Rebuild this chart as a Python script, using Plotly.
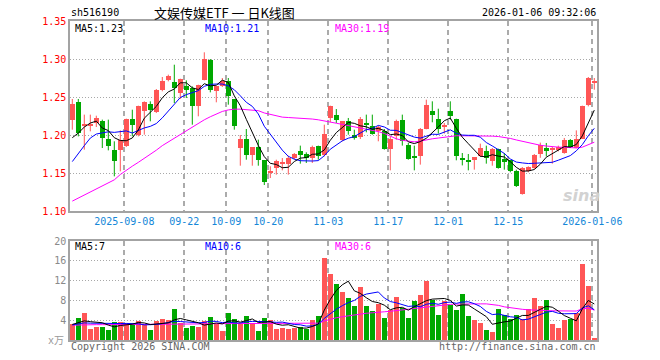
import numpy as np
import plotly.graph_objects as go

# ---------------- data ----------------
open_ = [1.2202, 1.2430, 1.2123, 1.2123, 1.2158, 1.2180, 1.1952, 1.1807, 1.1798, 1.1851,
         1.2215, 1.2004, 1.2311, 1.2412, 1.2298, 1.2596, 1.2719, 1.2693, 1.2553, 1.2640,
         1.2618, 1.2377, 1.2728, 1.2991, 1.2575, 1.2640, 1.2706, 1.2474, 1.1829, 1.1952,
         1.1741, 1.1842, 1.1667, 1.1513, 1.1566, 1.1623, 1.1623, 1.1697, 1.1794, 1.1754,
         1.1697, 1.1851, 1.1741, 1.2224, 1.2268, 1.1939, 1.2180, 1.2004, 1.1974, 1.2145,
         1.2123, 1.2048, 1.2048, 1.1816, 1.1991, 1.2193, 1.1873, 1.1711, 1.1728, 1.2079,
         1.2311, 1.2215, 1.2110, 1.2320, 1.2215, 1.1700, 1.1675, 1.1667, 1.1719, 1.1794,
         1.1654, 1.1820, 1.1689, 1.1667, 1.1531, 1.1228, 1.1522, 1.1566, 1.1750, 1.1829,
         1.1807, 1.1798, 1.1763, 1.1930, 1.1829, 1.1952, 1.2399, 1.2697]
high = [1.2474, 1.2474, 1.2268, 1.2268, 1.2254, 1.2202, 1.2202, 1.1917, 1.2061, 1.2215,
        1.2333, 1.2386, 1.2443, 1.2443, 1.2605, 1.2763, 1.2794, 1.2925, 1.2741, 1.2719,
        1.2640, 1.2662, 1.3088, 1.3000, 1.2640, 1.2750, 1.2750, 1.2474, 1.2000, 1.2079,
        1.1838, 1.1939, 1.1667, 1.1588, 1.1675, 1.1697, 1.1728, 1.1763, 1.1860, 1.1772,
        1.1860, 1.1860, 1.2136, 1.2386, 1.2342, 1.2180, 1.2224, 1.2070, 1.2237, 1.2268,
        1.2268, 1.2123, 1.2079, 1.1982, 1.2202, 1.2268, 1.1895, 1.1860, 1.2092, 1.2465,
        1.2443, 1.2346, 1.2158, 1.2443, 1.2215, 1.1763, 1.1750, 1.1706, 1.1886, 1.1860,
        1.1829, 1.1820, 1.1763, 1.1667, 1.1544, 1.1579, 1.1588, 1.1750, 1.1900, 1.1895,
        1.1842, 1.1860, 1.1961, 1.1947, 1.2061, 1.2386, 1.2763, 1.2750]
low = [1.2070, 1.1982, 1.1807, 1.2048, 1.2105, 1.1829, 1.1798, 1.1456, 1.1522, 1.1842,
       1.1982, 1.1982, 1.2004, 1.2180, 1.2289, 1.2575, 1.2706, 1.2421, 1.2474, 1.2487,
       1.2136, 1.2246, 1.2719, 1.2561, 1.2430, 1.2632, 1.2399, 1.2070, 1.1596, 1.1675,
       1.1596, 1.1596, 1.1342, 1.1434, 1.1478, 1.1535, 1.1478, 1.1675, 1.1623, 1.1632,
       1.1632, 1.1675, 1.1719, 1.2167, 1.2158, 1.1917, 1.2004, 1.1939, 1.1947, 1.2035,
       1.2004, 1.1917, 1.1807, 1.1535, 1.1939, 1.1860, 1.1675, 1.1535, 1.1610, 1.2075,
       1.2167, 1.2018, 1.2018, 1.2202, 1.1667, 1.1600, 1.1535, 1.1544, 1.1711, 1.1623,
       1.1596, 1.1557, 1.1544, 1.1509, 1.1316, 1.1215, 1.1509, 1.1553, 1.1700, 1.1719,
       1.1623, 1.1785, 1.1754, 1.1829, 1.1825, 1.1947, 1.2377, 1.2596]
close = [1.2412, 1.2026, 1.2123, 1.2125, 1.2228, 1.1956, 1.1860, 1.1654, 1.1939, 1.2215,
         1.2136, 1.2386, 1.2430, 1.2333, 1.2596, 1.2706, 1.2772, 1.2618, 1.2741, 1.2596,
         1.2377, 1.2662, 1.3000, 1.2596, 1.2640, 1.2706, 1.2518, 1.2114, 1.1952, 1.1741,
         1.1838, 1.1667, 1.1377, 1.1515, 1.1662, 1.1625, 1.1697, 1.1754, 1.1741, 1.1697,
         1.1842, 1.1719, 1.2018, 1.2377, 1.2202, 1.2180, 1.2048, 1.1961, 1.2215, 1.2136,
         1.2018, 1.2105, 1.1816, 1.1947, 1.2180, 1.1917, 1.1689, 1.1702, 1.2079, 1.2399,
         1.2268, 1.2079, 1.2114, 1.2254, 1.1728, 1.1680, 1.1655, 1.1706, 1.1829, 1.1697,
         1.1816, 1.1566, 1.1645, 1.1522, 1.1325, 1.1566, 1.1575, 1.1741, 1.1873, 1.1785,
         1.1809, 1.1842, 1.1930, 1.1842, 1.1952, 1.2377, 1.2750, 1.2715]
volume = [3.23, 4.44, 5.45, 2.22, 2.69, 2.63, 2.09, 3.64, 3.64, 3.43,
          3.16, 3.84, 3.16, 2.02, 3.84, 4.24, 4.04, 6.26, 3.37, 2.42,
          2.76, 2.63, 3.84, 4.65, 3.30, 1.82, 5.45, 4.24, 3.23, 4.85,
          3.50, 1.82, 4.44, 4.04, 2.22, 2.42, 2.30, 2.50, 2.60, 2.20,
          4.00, 4.85, 16.6, 13.3, 11.3, 9.70, 8.50, 6.90, 10.7, 6.90,
          5.90, 7.30, 4.40, 6.10, 8.75, 6.50, 4.40, 7.90, 9.00, 11.9,
          8.10, 5.05, 7.90, 7.10, 6.10, 9.30, 4.90, 4.00, 3.40, 2.00,
          1.60, 6.30, 5.05, 4.20, 5.05, 4.20, 6.30, 8.50, 6.90, 8.10,
          3.30, 2.40, 4.00, 4.20, 5.45, 15.4, 10.9, 0.40]
# closes / volumes of the sessions just before the window (needed by MA5 / MA10)
prior_close = [1.093, 1.112, 1.113, 1.170, 1.180, 1.172, 1.173, 1.186, 1.210]
prior_volume = [2.6, 3.1, 2.8, 3.0, 3.2, 2.9, 3.4, 3.0, 3.2]
# 30-day averages
ma30_price = [1.113, 1.117, 1.121, 1.125, 1.129, 1.132, 1.136, 1.141, 1.148, 1.154,
              1.159, 1.164, 1.169, 1.175, 1.180, 1.186, 1.191, 1.196, 1.201, 1.206,
              1.211, 1.216, 1.220, 1.224, 1.228, 1.231, 1.233, 1.234, 1.234, 1.2335,
              1.233, 1.232, 1.229, 1.227, 1.225, 1.2235, 1.223, 1.2225, 1.2225, 1.222,
              1.221, 1.220, 1.218, 1.217, 1.2155, 1.214, 1.2125, 1.211, 1.209, 1.207,
              1.2055, 1.2045, 1.202, 1.198, 1.195, 1.193, 1.192, 1.191, 1.192, 1.194,
              1.195, 1.196, 1.197, 1.198, 1.199, 1.199, 1.199, 1.199, 1.199, 1.199,
              1.1985, 1.198, 1.197, 1.1955, 1.1935, 1.1915, 1.190, 1.188, 1.1865, 1.1855,
              1.1845, 1.184, 1.1838, 1.1835, 1.183, 1.184, 1.187, 1.1905]
ma30_volume = [3.0, 3.05, 3.1, 3.1, 3.1, 3.1, 3.1, 3.1, 3.15, 3.15,
               3.15, 3.2, 3.2, 3.2, 3.2, 3.2, 3.2, 3.25, 3.25, 3.25,
               3.25, 3.25, 3.25, 3.3, 3.3, 3.3, 3.3, 3.3, 3.3, 3.35,
               3.35, 3.35, 3.35, 3.35, 3.35, 3.35, 3.35, 3.35, 3.4, 3.4,
               3.4, 3.4, 3.85, 4.2, 4.5, 4.7, 4.9, 5.0, 5.25, 5.4,
               5.5, 5.65, 5.7, 5.8, 5.95, 6.05, 6.1, 6.25, 6.4, 6.6,
               6.8, 6.9, 7.0, 7.2, 7.25, 7.3, 7.3, 7.3, 7.3, 7.3,
               7.2, 7.0, 6.7, 6.5, 6.3, 6.2, 6.1, 6.0, 6.0, 5.95,
               5.9, 5.9, 5.9, 5.85, 5.85, 6.3, 6.4, 6.05]
tick_index = [9, 19, 26, 33, 43, 53, 63, 73, 87]
tick_labels = ["2025-09-08", "09-22", "10-09", "10-20", "11-03", "11-17",
               "12-01", "12-15", "2026-01-06"]
price_ticks = [1.10, 1.15, 1.20, 1.25, 1.30, 1.35]
volume_ticks = [4, 8, 12, 16, 20]

# ---------------- derived ----------------
def sma(values, prior, n):
    arr = np.array(list(prior) + list(values), dtype=float)
    out = np.convolve(arr, np.ones(n) / n, mode="valid")
    return out[-len(values):]

o, h, l, c = (np.array(v) for v in (open_, high, low, close))
vol = np.array(volume)
idx = np.arange(len(c))
up = c >= o
ma5 = sma(close, prior_close, 5)
ma10 = sma(close, prior_close, 10)
vma5 = sma(volume, prior_volume, 5)
vma10 = sma(volume, prior_volume, 10)

RED = "#FF5656"
GREEN = "#00A800"
MONO = "DejaVu Sans Mono"
CJK = "Noto Sans CJK SC"

fig = go.Figure()

def wick_xy(mask):
    xs, ys = [], []
    for i in idx[mask]:
        xs += [i, i, None]
        ys += [l[i], h[i], None]
    return xs, ys

for mask, col in ((up, RED), (~up, GREEN)):
    wx, wy = wick_xy(mask)
    fig.add_trace(go.Scatter(x=wx, y=wy, mode="lines", line=dict(color=col, width=1),
                             xaxis="x", yaxis="y", hoverinfo="skip"))
    base = np.minimum(o, c)[mask]
    height = np.maximum(np.abs(c - o)[mask], 0.0012)
    fig.add_trace(go.Bar(x=idx[mask], y=height, base=base, width=0.82,
                         marker=dict(color=col, line=dict(width=0)),
                         xaxis="x", yaxis="y"))
    fig.add_trace(go.Bar(x=idx[mask], y=vol[mask], width=0.82,
                         marker=dict(color=col, line=dict(width=0)),
                         xaxis="x2", yaxis="y2"))

for series, col in ((ma30_price, "#FF00FF"), (ma10, "#0000FF"), (ma5, "#000000")):
    fig.add_trace(go.Scatter(x=idx, y=series, mode="lines", line=dict(color=col, width=1),
                             xaxis="x", yaxis="y"))
for series, col in ((ma30_volume, "#FF00FF"), (vma10, "#0000FF"), (vma5, "#000000")):
    fig.add_trace(go.Scatter(x=idx, y=series, mode="lines", line=dict(color=col, width=1),
                             xaxis="x2", yaxis="y2"))

L, R, T, B = 70, 63, 21, 20
W, H = 660, 360
pw, ph = W - L - R, H - T - B

def px(xp):
    return (xp - L) / pw

def py(yp):
    return (H - B - yp) / ph

xr = [-0.383, 87.45]
grid_v = dict(showgrid=True, gridcolor="#ababab", gridwidth=1.5, griddash="5px,4px")
border = dict(showline=True, mirror=True, linecolor="#a3a3a3", linewidth=1.5, zeroline=False)
tv = [t - 0.33 for t in tick_index]

fig.update_layout(
    width=W, height=H, margin=dict(l=L, r=R, t=T, b=B),
    paper_bgcolor="white", plot_bgcolor="white", showlegend=False,
    barmode="overlay", bargap=0,
    font=dict(family=MONO, size=10, color="#000"),
    xaxis=dict(domain=[0, 1], anchor="y", range=xr, tickvals=tv, ticktext=tick_labels,
               tickfont=dict(family=MONO, size=10, color="#1487D8"), ticks="",
               **grid_v, **border),
    yaxis=dict(domain=[py(211), 1], anchor="x", range=[1.10, 1.35], tickvals=price_ticks,
               ticktext=[f"{v:.2f}" for v in price_ticks],
               tickfont=dict(family=MONO, size=10, color="#FF0000"), ticks="",
               showgrid=True, gridcolor="#a8a8a8", gridwidth=1, griddash="1px,2px", **border),
    xaxis2=dict(domain=[0, 1], anchor="y2", range=xr, tickvals=tv, showticklabels=False,
                ticks="", **grid_v, **border),
    yaxis2=dict(domain=[0, py(241)], anchor="x2", range=[0, 20], tickvals=volume_ticks,
                ticktext=[str(v) for v in volume_ticks],
                tickfont=dict(family=MONO, size=10, color="#8a8a8a"), ticks="",
                showgrid=True, gridcolor="#a8a8a8", gridwidth=1, griddash="1px,2px", **border),
)

def note(text, xp, yp, color="#000", size=10, anchor="left", family=MONO):
    fig.add_annotation(text=text, x=px(xp), y=py(yp), xref="paper", yref="paper",
                       xanchor=anchor, yanchor="middle", showarrow=False,
                       font=dict(family=family, size=size, color=color))

note("sh516190", 69, 12.5)
note("文娱传媒ETF 一 日K线图", 224, 12.5, size=13, anchor="center", family=CJK)
note("2026-01-06 09:32:06", 598, 12.5, anchor="right")

note(f"MA5:{ma5[-1]:.2f}", 73, 28)
note(f"MA10:{ma10[-1]:.2f}", 203, 28, color="#0000FF")
note(f"MA30:{ma30_price[-1]:.2f}", 333, 28, color="#FF00FF")
note(f"MA5:{vma5[-1]:.0f}", 73, 247)
note(f"MA10:{vma10[-1]:.0f}", 203, 247, color="#0000FF")
note(f"MA30:{ma30_volume[-1]:.0f}", 333, 247, color="#FF00FF")

note("x万", 56, 341, color="#999", anchor="center", family=f"{MONO}, {CJK}")
note("Copyright 2026 SINA.COM", 69, 346, color="#666")
note("http://finance.sina.com.cn", 598, 346, color="#666", anchor="right")

# faint sina watermark
note("<b><i>sina</i></b>", 581, 195, color="#D2D2D2", size=16, anchor="center",
     family="DejaVu Sans")

fig.write_html("out.html", config={"displayModeBar": False},
               post_script="document.body.style.margin='0';")
